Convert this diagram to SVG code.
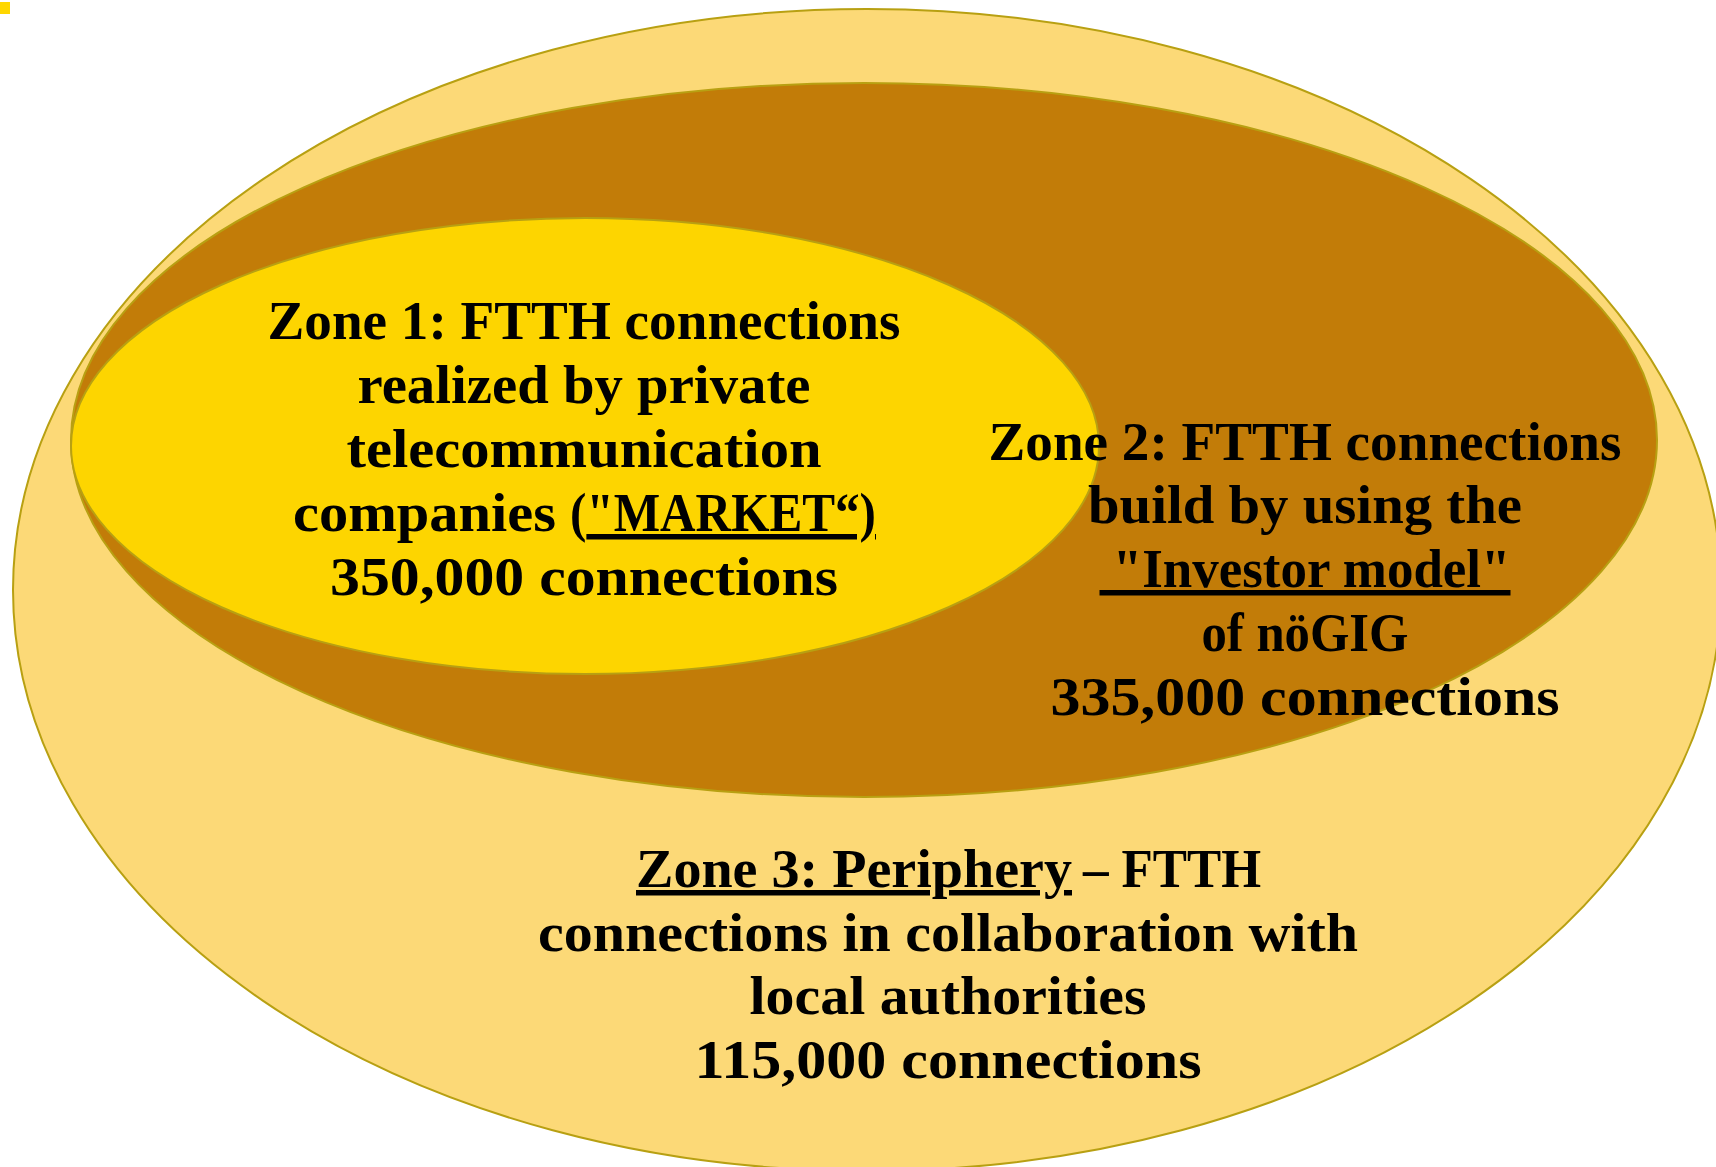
<svg xmlns="http://www.w3.org/2000/svg" width="1716" height="1167" viewBox="0 0 1716 1167">
<style>
.zone{stroke:#B8A012;stroke-width:2}
.t{font-family:"Liberation Serif","Times New Roman",serif;font-weight:bold;font-size:55px;fill:#000;text-anchor:middle}
.s{text-anchor:start}
.u{text-decoration:underline}
</style>
<rect x="0" y="0" width="1716" height="1167" fill="#ffffff"/>
<rect x="0" y="2" width="10" height="12" fill="#FFD700"/>
<g id="zone3">
<ellipse class="zone" cx="867" cy="590" rx="854" ry="581" fill="#FCD977"/>
</g>
<g id="zone2">
<ellipse class="zone" cx="864" cy="440" rx="793" ry="357" fill="#C27C08"/>
</g>
<g id="zone1">
<ellipse class="zone" cx="585" cy="446" rx="514" ry="228" fill="#FDD500"/>
</g>
<g id="connectors"></g>
<g id="zone1-label">
<text class="t" x="584" y="339" textLength="633" lengthAdjust="spacingAndGlyphs">Zone 1: FTTH connections</text>
<text class="t" x="584" y="403" textLength="453" lengthAdjust="spacingAndGlyphs">realized by private</text>
<text class="t" x="584" y="467" textLength="475" lengthAdjust="spacingAndGlyphs">telecommunication</text>
<text class="t s" x="293" y="531" textLength="263" lengthAdjust="spacingAndGlyphs">companies</text>
<text class="t s" x="570" y="531" textLength="306" lengthAdjust="spacingAndGlyphs">(<tspan class="u">"MARKET“)</tspan></text>
<text class="t" x="584" y="595" textLength="508" lengthAdjust="spacingAndGlyphs">350,000 connections</text>
</g>
<g id="zone2-label">
<text class="t" x="1305" y="460" textLength="633" lengthAdjust="spacingAndGlyphs">Zone 2: FTTH connections</text>
<text class="t" x="1305" y="523" textLength="434" lengthAdjust="spacingAndGlyphs">build by using the</text>
<text class="t" x="1305" y="587" textLength="411" lengthAdjust="spacingAndGlyphs" xml:space="preserve"><tspan class="u"> "Investor model"</tspan></text>
<text class="t" x="1305" y="651" textLength="207" lengthAdjust="spacingAndGlyphs">of nöGIG</text>
<text class="t" x="1305" y="715" textLength="509" lengthAdjust="spacingAndGlyphs">335,000 connections</text>
</g>
<g id="zone3-label">
<text class="t s" x="636" y="887" textLength="436" lengthAdjust="spacingAndGlyphs"><tspan class="u">Zone 3: Periphery</tspan></text>
<text class="t s" x="1083" y="887" textLength="178" lengthAdjust="spacingAndGlyphs">– FTTH</text>
<text class="t" x="948" y="951" textLength="820" lengthAdjust="spacingAndGlyphs">connections in collaboration with</text>
<text class="t" x="948" y="1014" textLength="397" lengthAdjust="spacingAndGlyphs">local authorities</text>
<text class="t" x="948" y="1078" textLength="507" lengthAdjust="spacingAndGlyphs">115,000 connections</text>
</g>
</svg>
